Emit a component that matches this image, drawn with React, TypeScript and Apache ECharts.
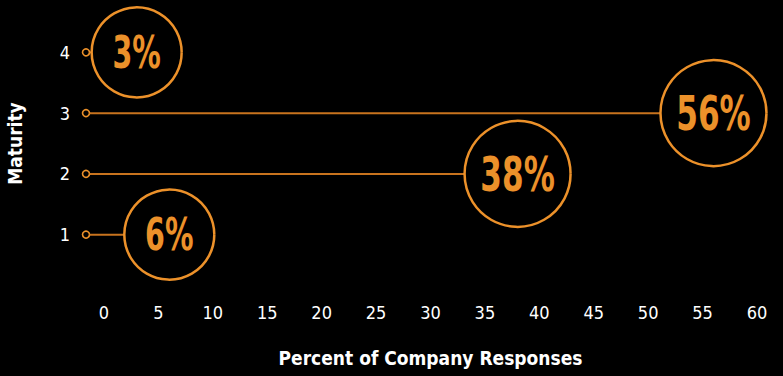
import React, { useEffect, useRef } from "react";
import * as echarts from "echarts";

const categories = ["1", "2", "3", "4"];
const percentValues = [6, 38, 56, 3];
const xTicks = [0, 5, 10, 15, 20, 25, 30, 35, 40, 45, 50, 55, 60];

const ORANGE = "#EC912A";
const LINE = "#C8731E";
const FONT = "'DejaVu Sans Condensed', 'Liberation Sans', sans-serif";

export default function App() {
  const ref = useRef<HTMLDivElement>(null);
  useEffect(() => {
    document.body.style.margin = "0";
    const chart = echarts.init(ref.current!, null, { renderer: "svg" });
    const data = percentValues.map((v, i) => [v, i]);
    chart.setOption({
      animation: false,
      backgroundColor: "#000000",
      grid: { left: 104, right: 26, top: 22, height: 243, containLabel: false, outerBoundsMode: "none" },
      xAxis: {
        type: "value",
        min: xTicks[0],
        max: xTicks[xTicks.length - 1],
        interval: 5,
        axisLine: { show: false },
        axisTick: { show: false },
        splitLine: { show: false },
        axisLabel: { color: "#ffffff", fontSize: 18, fontFamily: FONT, margin: 38 },
        name: "Percent of Company Responses",
        nameLocation: "middle",
        nameGap: 83,
        nameTextStyle: { color: "#ffffff", fontSize: 19, fontFamily: FONT, fontWeight: "bold" },
      },
      yAxis: {
        type: "category",
        data: categories,
        axisLine: { show: false },
        axisTick: { show: false },
        splitLine: { show: false },
        axisLabel: { color: "#ffffff", fontSize: 18, fontFamily: FONT, margin: 34 },
        name: "Maturity",
        nameLocation: "middle",
        nameGap: 80,
        nameRotate: 90,
        nameTextStyle: { color: "#ffffff", fontSize: 19, fontFamily: FONT, fontWeight: "bold" },
      },
      series: [
        {
          type: "custom",
          data,
          renderItem: (params: any, api: any) => {
            const v = api.value(0);
            const c = api.value(1);
            const p = api.coord([v, c]);
            const p0 = api.coord([0, c]);
            const r = v > 20 ? 53 : 45;
            const sx = p0[0] - 18;
            const fs = v > 20 ? 48 : 44;
            return {
              type: "group",
              children: [
                {
                  type: "line",
                  shape: { x1: sx + 3.5, y1: p[1], x2: p[0] - r, y2: p[1] },
                  style: { stroke: LINE, lineWidth: 2 },
                },
                {
                  type: "circle",
                  shape: { cx: sx, cy: p[1], r: 3.5 },
                  style: { fill: "#000", stroke: ORANGE, lineWidth: 1.6 },
                },
                {
                  type: "circle",
                  shape: { cx: p[0], cy: p[1], r },
                  style: { fill: "#000", stroke: ORANGE, lineWidth: 2.5 },
                },
                {
                  type: "text",
                  x: p[0],
                  y: p[1],
                  scaleX: 0.72,
                  style: {
                    text: v + "%",
                    fill: ORANGE,
                    font: `bold ${fs}px ${FONT}`,
                    align: "center",
                    verticalAlign: "middle",
                  },
                },
              ],
            };
          },
        },
      ],
    });
    return () => chart.dispose();
  }, []);
  return <div ref={ref} style={{ position: "absolute", left: 0, top: 0, width: 783, height: 376 }} />;
}
